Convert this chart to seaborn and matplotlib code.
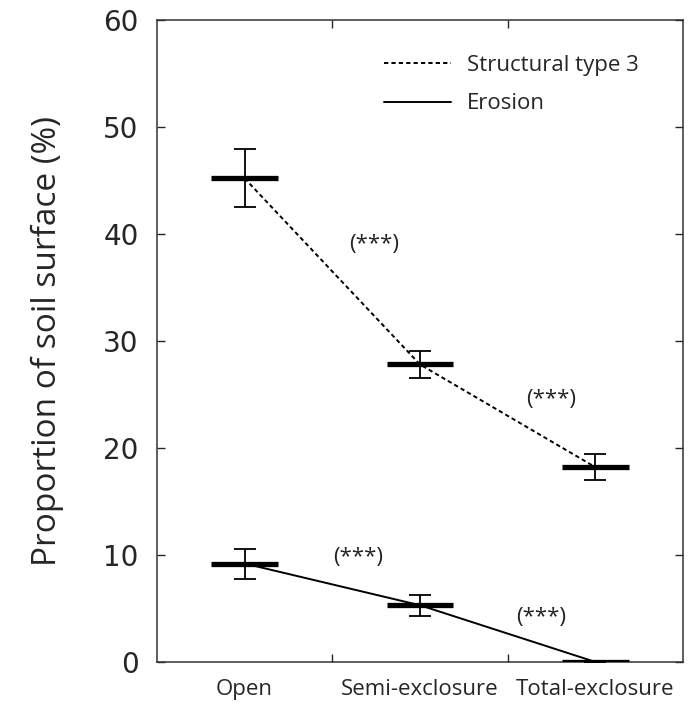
import matplotlib
matplotlib.use("Agg")
import matplotlib.pyplot as plt
from matplotlib.lines import Line2D
from matplotlib.ticker import FixedLocator, NullFormatter
import seaborn as sns
import pandas as pd

# Treatments and measured soil-surface proportions (%)
categories = ["Open", "Semi-exclosure", "Total-exclosure"]
structural_mean = [45.2, 27.8, 18.2]
structural_err = [2.7, 1.3, 1.2]
erosion_mean = [9.2, 5.3, 0.0]
erosion_err = [1.4, 1.0, 0.0]
series_names = ["Structural type 3", "Erosion"]
sig_labels = ["(***)", "(***)", "(***)", "(***)"]
sig_x = [0.74, 1.75, 0.65, 1.69]
sig_y = [39.0, 24.5, 9.8, 4.2]

df = pd.DataFrame({
    "pos": list(range(3)) * 2,
    "value": structural_mean + erosion_mean,
    "err": structural_err + erosion_err,
    "series": [series_names[0]] * 3 + [series_names[1]] * 3,
})

sns.set_style("ticks")
plt.rcParams["font.family"] = ["Open Sans", "DejaVu Sans"]

fig = plt.figure(figsize=(7.0, 7.04), dpi=100)
ax = fig.add_axes([0.224, 0.0597, 0.752, 0.912])

sns.lineplot(data=df, x="pos", y="value", style="series",
             style_order=series_names,
             dashes={series_names[0]: (2.2, 1.6), series_names[1]: ""},
             color="black", linewidth=1.4, ax=ax, legend=False)

for name in series_names:
    sub = df[df["series"] == name]
    ax.hlines(sub["value"], sub["pos"] - 0.19, sub["pos"] + 0.19,
              color="black", linewidth=3.8, zorder=3)
    ax.errorbar(sub["pos"], sub["value"], yerr=sub["err"], fmt="none",
                ecolor="black", elinewidth=1.3, capsize=8, capthick=1.3,
                zorder=3)

for lab, x, y in zip(sig_labels, sig_x, sig_y):
    ax.text(x, y, lab, ha="center", va="center", fontsize=16, color="#222222")

ax.set_xlim(-0.5, 2.5)
ax.set_ylim(0, 60)
ax.set_xticks(range(3))
ax.set_xticklabels(categories, fontsize=16)
ax.xaxis.set_minor_locator(FixedLocator([0.5, 1.5]))
ax.xaxis.set_minor_formatter(NullFormatter())
ax.tick_params(axis="x", which="major", length=0, pad=12)
ax.tick_params(axis="x", which="minor", direction="in", length=6,
               top=True, bottom=True, width=1)
ax.set_yticks(range(0, 61, 10))
ax.tick_params(axis="y", direction="in", length=6, left=True, right=True,
               labelsize=20, pad=13, width=1)
for lab in ax.get_yticklabels():
    lab.set_family(["DejaVu Sans"])
ax.set_xlabel("")
ax.set_ylabel("Proportion of soil surface (%)", fontsize=24, labelpad=28)
for sp in ax.spines.values():
    sp.set_visible(True)
    sp.set_linewidth(1.1)
    sp.set_color("#333333")

handles = [Line2D([], [], color="black", linestyle=(0, (2.2, 1.6)), linewidth=1.4),
           Line2D([], [], color="black", linewidth=1.4)]
ax.legend(handles, series_names, loc="upper right", bbox_to_anchor=(0.953, 0.977),
          frameon=False, fontsize=16, handlelength=3.0, handletextpad=0.7,
          labelspacing=0.8)

fig.savefig("out.png", dpi=100, facecolor="white")
